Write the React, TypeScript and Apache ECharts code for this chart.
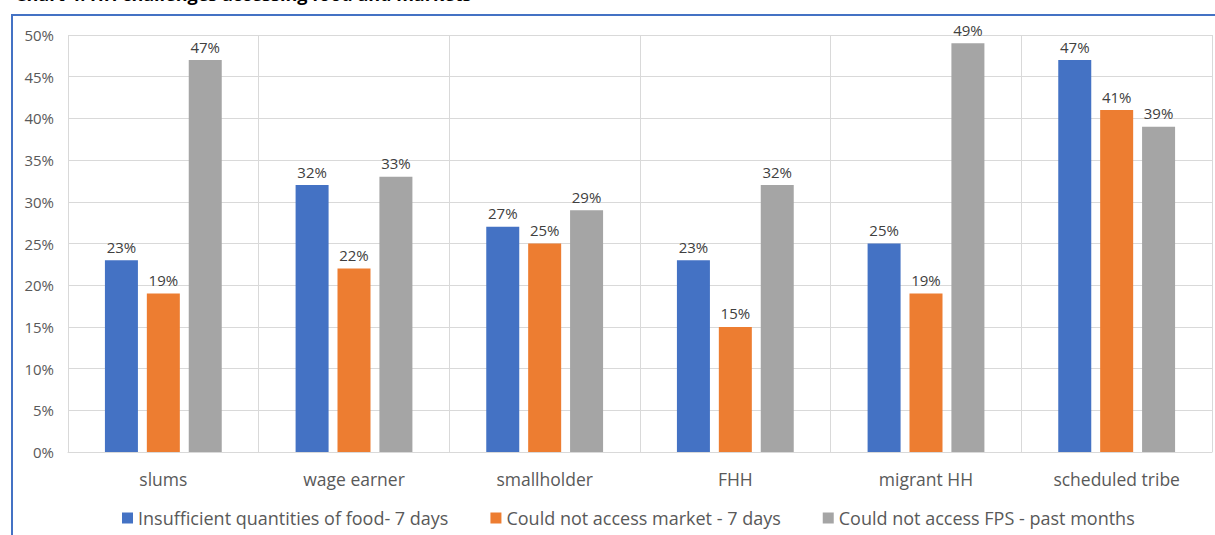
import React, { useEffect, useRef } from "react";
import * as echarts from "echarts";

const categories = ["slums", "wage earner", "smallholder", "FHH", "migrant HH", "scheduled tribe"];
const insufficientFood = [23, 32, 27, 23, 25, 47];
const noMarket = [19, 22, 25, 15, 19, 41];
const noFPS = [47, 33, 29, 32, 49, 39];
const seriesNames = [
  "Insufficient quantities of food- 7 days",
  "Could not access market - 7 days",
  "Could not access FPS - past months",
];
const colors = ["#4472C4", "#ED7D31", "#A5A5A5"];
const titleText = "Chart 4: HH challenges accessing food and markets";

export default function App() {
  const ref = useRef<HTMLDivElement>(null);
  useEffect(() => {
    if (!ref.current) return;
    const chart = echarts.init(ref.current, null, { renderer: "svg" });
    const font = "'Open Sans', 'Noto Sans', sans-serif";
    const mk = (name: string, data: number[], color: string) => ({
      name,
      type: "bar",
      data,
      barWidth: 33,
      barGap: "27%",
      itemStyle: { color },
      label: {
        show: true,
        position: "top",
        distance: 6,
        formatter: (p: any) => p.value + "%",
        color: "#404040",
        fontSize: 15,
        fontFamily: font,
      },
    });
    chart.setOption({
      animation: false,
      backgroundColor: "#ffffff",
      textStyle: { fontFamily: font },
      grid: { left: 68, right: 3, top: 35, bottom: 83, containLabel: false },
      legend: {
        bottom: 3,
        left: 117,
        itemWidth: 11,
        itemHeight: 11,
        itemGap: 42,
        icon: "rect",
        textStyle: { color: "#595959", fontSize: 18, fontFamily: font },
        data: seriesNames,
      },
      xAxis: {
        type: "category",
        data: categories,
        axisLine: { show: true, lineStyle: { color: "#d9d9d9" } },
        axisTick: { show: false },
        splitLine: { show: true, lineStyle: { color: "#d9d9d9" } },
        axisLabel: { color: "#595959", fontSize: 17.5, margin: 18, fontFamily: font },
      },
      yAxis: {
        type: "value",
        min: 0,
        max: 50,
        interval: 5,
        axisLine: { show: false },
        axisTick: { show: false },
        splitLine: { show: true, lineStyle: { color: "#d9d9d9" } },
        axisLabel: {
          color: "#595959",
          fontSize: 15,
          margin: 14,
          formatter: (v: number) => v + "%",
          fontFamily: font,
        },
      },
      graphic: [
        {
          type: "rect",
          shape: { x: 12, y: 15, width: 1400, height: 700 },
          style: { fill: "none", stroke: "#4472C4", lineWidth: 2 },
          silent: true,
        },
        {
          type: "text",
          x: 15,
          y: 3,
          style: {
            text: titleText,
            fill: "#000000",
            font: "bold 18px 'Open Sans', sans-serif",
            verticalAlign: "bottom",
          },
          silent: true,
        },
      ],
      series: [
        mk(seriesNames[0], insufficientFood, colors[0]),
        mk(seriesNames[1], noMarket, colors[1]),
        mk(seriesNames[2], noFPS, colors[2]),
      ],
    });
    return () => chart.dispose();
  }, []);
  return (
    <div
      ref={ref}
      style={{ position: "fixed", left: 0, top: 0, width: 1215, height: 535 }}
    />
  );
}
